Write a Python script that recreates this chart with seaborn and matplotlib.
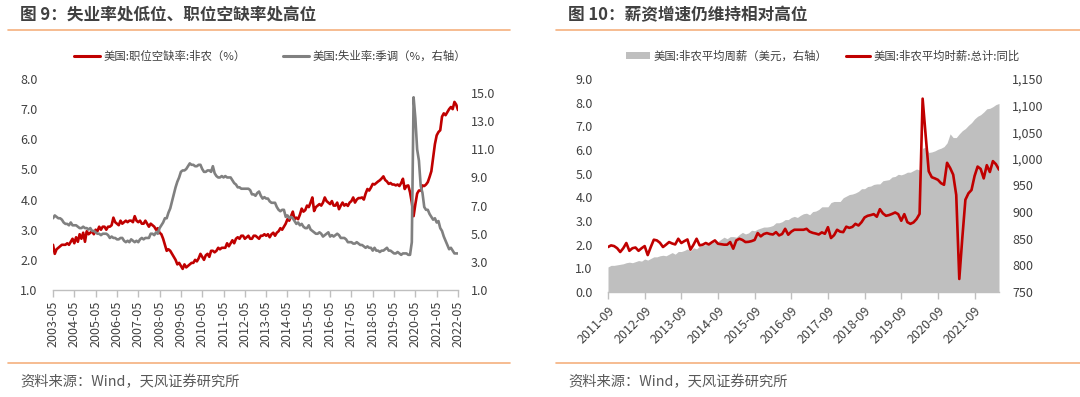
import numpy as np
import pandas as pd
import matplotlib
matplotlib.use("Agg")
import matplotlib.pyplot as plt
import seaborn as sns
from matplotlib.lines import Line2D
from matplotlib.patches import Patch
from matplotlib.ticker import FuncFormatter

# ---------------- data ----------------
# Left chart: monthly 2003-05 .. 2022-05
left_months = pd.period_range("2003-05", "2022-05", freq="M").strftime("%Y-%m").tolist()
left_tick_labels = left_months[::12]

job_openings_rate = [
    2.5, 2.2, 2.35, 2.4, 2.45, 2.5, 2.5, 2.5,
    2.55, 2.5, 2.6, 2.7, 2.55, 2.75, 2.6, 2.85, 2.7, 2.9, 2.6, 2.95,
    2.85, 2.9, 2.95, 2.85, 3.0, 2.95, 3.1, 3.0, 3.1, 3.1, 3.0, 3.1,
    3.1, 3.15, 3.4, 3.25, 3.2, 3.15, 3.3, 3.2, 3.25, 3.3, 3.25, 3.3,
    3.3, 3.25, 3.45, 3.3, 3.25, 3.3, 3.2, 3.2, 3.3, 3.2, 3.1, 3.2,
    3.15, 3.1, 3.0, 3.05, 2.9, 2.85, 2.7, 2.5, 2.3, 2.35, 2.3, 2.2,
    2.1, 2.0, 1.85, 1.9, 1.8, 1.7, 1.85, 1.75, 1.8, 1.85, 1.9, 1.9,
    2.0, 1.95, 2.05, 2.2, 2.1, 2.0, 2.15, 2.2, 2.1, 2.3, 2.3, 2.25,
    2.3, 2.4, 2.35, 2.4, 2.4, 2.4, 2.55, 2.45, 2.55, 2.65, 2.55, 2.7,
    2.75, 2.7, 2.8, 2.8, 2.7, 2.75, 2.8, 2.7, 2.7, 2.8, 2.8, 2.75,
    2.7, 2.8, 2.8, 2.85, 2.8, 2.85, 2.75, 2.85, 2.9, 2.8, 2.9, 2.95,
    3.05, 3.0, 3.1, 3.2, 3.35, 3.3, 3.45, 3.6, 3.35, 3.4, 3.35, 3.5,
    3.7, 3.6, 3.65, 3.8, 3.75, 3.9, 4.07, 3.62, 3.75, 3.8, 3.85, 3.8,
    3.9, 4.07, 3.95, 3.9, 3.85, 3.95, 3.8, 3.8, 3.9, 3.68, 3.8, 3.9,
    3.8, 3.85, 3.79, 3.9, 3.95, 4.07, 3.9, 4.0, 4.05, 4.05, 4.07, 4.0,
    4.2, 4.35, 4.3, 4.4, 4.52, 4.5, 4.55, 4.6, 4.64, 4.7, 4.77, 4.65,
    4.6, 4.52, 4.55, 4.5, 4.5, 4.47, 4.5, 4.45, 4.55, 4.69, 4.35, 4.45,
    4.47, 4.24, 3.9, 3.45, 3.85, 4.2, 4.3, 4.3, 4.47, 4.45, 4.5, 4.58,
    4.75, 4.94, 5.4, 5.84, 6.13, 6.24, 6.3, 6.75, 6.86, 6.8, 6.9, 7.0,
    7.07, 7.0, 7.24, 7.15, 6.97,
]

unemployment_rate = [
    6.1, 6.3, 6.2, 6.1, 6.1, 6.0, 5.8, 5.7,
    5.7, 5.6, 5.8, 5.6, 5.6, 5.6, 5.5, 5.4, 5.4, 5.5, 5.4, 5.4,
    5.3, 5.4, 5.2, 5.2, 5.1, 5.0, 5.0, 4.9, 5.0, 5.0, 5.0, 4.9,
    4.7, 4.8, 4.7, 4.7, 4.6, 4.6, 4.7, 4.7, 4.5, 4.4, 4.5, 4.4,
    4.6, 4.5, 4.4, 4.5, 4.4, 4.6, 4.7, 4.6, 4.7, 4.7, 4.7, 5.0,
    5.0, 4.9, 5.1, 5.0, 5.4, 5.6, 5.8, 6.1, 6.1, 6.5, 6.8, 7.3,
    7.8, 8.3, 8.7, 9.0, 9.4, 9.5, 9.5, 9.6, 9.8, 10.0, 9.9, 9.9,
    9.8, 9.8, 9.9, 9.9, 9.6, 9.4, 9.4, 9.5, 9.5, 9.4, 9.8, 9.3,
    9.1, 9.0, 9.0, 9.1, 9.0, 9.1, 9.0, 9.0, 9.0, 8.8, 8.6, 8.5,
    8.3, 8.3, 8.2, 8.2, 8.2, 8.2, 8.2, 8.1, 7.8, 7.8, 7.7, 7.9,
    8.0, 7.7, 7.5, 7.6, 7.5, 7.5, 7.3, 7.2, 7.2, 7.2, 6.9, 6.7,
    6.6, 6.7, 6.7, 6.2, 6.3, 6.1, 6.2, 6.1, 5.9, 5.7, 5.8, 5.6,
    5.7, 5.5, 5.4, 5.4, 5.6, 5.3, 5.2, 5.1, 5.0, 5.0, 5.1, 5.0,
    4.8, 4.9, 5.0, 5.1, 4.8, 4.9, 4.8, 4.9, 5.0, 4.9, 4.7, 4.7,
    4.7, 4.6, 4.4, 4.4, 4.4, 4.3, 4.3, 4.4, 4.3, 4.2, 4.2, 4.1,
    4.0, 4.1, 4.0, 4.0, 3.8, 4.0, 3.8, 3.8, 3.7, 3.8, 3.8, 3.9,
    4.0, 3.8, 3.8, 3.7, 3.6, 3.6, 3.7, 3.6, 3.5, 3.6, 3.6, 3.6,
    3.5, 3.5, 4.4, 14.7, 13.2, 11.0, 10.2, 8.4, 7.9, 6.9, 6.7, 6.7,
    6.4, 6.2, 6.0, 6.1, 5.8, 5.9, 5.4, 5.2, 4.8, 4.5, 4.2, 3.9,
    4.0, 3.8, 3.6, 3.6, 3.6,
]

# Right chart: monthly 2011-09 .. 2022-05
right_months = pd.period_range("2011-09", "2022-05", freq="M").strftime("%Y-%m").tolist()
right_tick_labels = right_months[::12][:11]

avg_weekly_earnings = [
    797, 800, 800, 801,
    802, 803, 805, 806, 805, 807, 809, 808, 812, 810, 813, 816,
    816, 818, 819, 818, 821, 824, 821, 826, 826, 828, 831, 827,
    833, 831, 836, 838, 839, 842, 842, 845, 845, 849, 853, 850,
    854, 854, 853, 858, 862, 859, 861, 866, 865, 868, 870, 872,
    872, 873, 875, 880, 880, 882, 886, 886, 890, 892, 890, 894,
    897, 898, 895, 901, 902, 905, 910, 910, 910, 918, 920, 920,
    920, 927, 930, 933, 934, 936, 939, 944, 944, 948, 949, 952,
    953, 953, 959, 960, 961, 966, 967, 971, 970, 972, 975, 975,
    978, 981, 979, 1020, 1022, 1012, 1013, 1015, 1018, 1020, 1023, 1030,
    1047, 1040, 1040, 1047, 1053, 1057, 1063, 1068, 1075, 1080, 1083, 1088,
    1094, 1095, 1098, 1102, 1104,
]

hourly_earnings_yoy = [
    1.90, 1.97, 1.94, 1.85,
    1.69, 1.85, 2.07, 1.74, 1.85, 1.88, 1.74, 1.85, 1.94, 1.56, 1.90, 2.21,
    2.18, 2.08, 1.90, 2.00, 2.11, 2.05, 2.01, 2.25, 2.07, 2.15, 2.22, 1.79,
    2.00, 2.25, 1.97, 2.00, 2.07, 2.01, 2.10, 2.18, 2.04, 2.02, 2.00, 2.00,
    2.11, 1.83, 2.18, 2.25, 2.20, 2.11, 2.12, 2.15, 2.20, 2.49, 2.35, 2.45,
    2.49, 2.45, 2.43, 2.53, 2.39, 2.45, 2.67, 2.42, 2.55, 2.63, 2.63, 2.63,
    2.63, 2.67, 2.55, 2.50, 2.47, 2.43, 2.52, 2.46, 2.74, 2.28, 2.40, 2.63,
    2.55, 2.53, 2.76, 2.71, 2.75, 2.88, 2.81, 2.95, 3.15, 3.22, 3.25, 3.29,
    3.18, 3.50, 3.32, 3.22, 3.25, 3.30, 3.36, 3.29, 3.01, 3.29, 2.95, 2.88,
    2.94, 3.08, 3.30, 8.17, 6.60, 5.10, 4.85, 4.80, 4.74, 4.60, 4.53, 5.46,
    5.24, 4.96, 4.10, 0.55, 2.30, 3.90, 4.17, 4.31, 4.90, 5.30, 5.20, 4.80,
    5.36, 5.07, 5.53, 5.40, 5.17,
]

# ---------------- styling ----------------
RED = "#C00000"
GREY_LINE = "#808080"
GREY_AREA = "#BFBFBF"
ORANGE = "#F5B07E"
TXT = "#404040"
AXIS = "#BFBFBF"

sns.set_theme(style="white")
plt.rcParams["font.family"] = ["Noto Sans CJK SC", "DejaVu Sans"]
plt.rcParams["axes.unicode_minus"] = False

W, H = 1080, 397
fig = plt.figure(figsize=(W / 100, H / 100), dpi=100)


def fx(px):
    return px / W


def fy(py):
    return 1 - py / H


def style_axes(ax, twin, ypad):
    for s in ax.spines.values():
        s.set_visible(False)
    ax.set_xlabel("")
    ax.set_ylabel("")
    ax.tick_params(axis="y", left=False, right=False, length=0, labelsize=9,
                   labelcolor=TXT, pad=ypad)
    if not twin:
        ax.spines["bottom"].set_visible(True)
        ax.spines["bottom"].set_color(AXIS)
        ax.spines["bottom"].set_linewidth(1.0)


# ---------------- left chart ----------------
axL = fig.add_axes([fx(53), fy(290), fx(458 - 53), (290 - 79) / H])
xl = np.arange(len(left_months))
dfL = pd.DataFrame({"idx": xl, "vac": job_openings_rate, "unemp": unemployment_rate})
sns.lineplot(data=dfL, x="idx", y="vac", ax=axL, color=RED, linewidth=1.9)
axL2 = axL.twinx()
sns.lineplot(data=dfL, x="idx", y="unemp", ax=axL2, color=GREY_LINE, linewidth=1.9)

axL.set_xlim(0, len(left_months) - 1)
axL.set_ylim(1, 8)
axL.set_yticks(np.arange(1, 8.01, 1))
axL.yaxis.set_major_formatter(FuncFormatter(lambda v, p: f"{v:.1f}"))
axL2.set_ylim(1, 16)
axL2.set_yticks(np.arange(1, 15.01, 2))
axL2.yaxis.set_major_formatter(FuncFormatter(lambda v, p: f"{v:.1f}"))
axL.set_xticks(xl[::12])
axL.set_xticklabels(left_tick_labels, rotation=90)
style_axes(axL, False, 11)
style_axes(axL2, True, 9)
axL.tick_params(axis="x", bottom=True, length=5, width=1.0, color=AXIS,
                labelsize=9, labelcolor=TXT, pad=3)

# ---------------- right chart ----------------
axR = fig.add_axes([fx(608), fy(292), fx(999 - 608), (292 - 79) / H])
xr = np.arange(len(right_months))
dfR = pd.DataFrame({"idx": xr, "awe": avg_weekly_earnings, "yoy": hourly_earnings_yoy})
axR2 = axR.twinx()
axR2.fill_between(dfR["idx"], 750, dfR["awe"], color=GREY_AREA, linewidth=0)
sns.lineplot(data=dfR, x="idx", y="yoy", ax=axR, color=RED, linewidth=1.9)
axR.set_zorder(axR2.get_zorder() + 1)
axR.patch.set_visible(False)

axR.set_xlim(0, len(right_months) - 1)
axR.set_ylim(0, 9)
axR.set_yticks(np.arange(0, 9.01, 1))
axR.yaxis.set_major_formatter(FuncFormatter(lambda v, p: f"{v:.1f}"))
axR2.set_ylim(750, 1150)
axR2.set_yticks(np.arange(750, 1150.1, 50))
axR2.yaxis.set_major_formatter(FuncFormatter(lambda v, p: f"{v:,.0f}"))
axR.set_xticks(xr[::12][:11])
axR.set_xticklabels(right_tick_labels, rotation=45, ha="right", rotation_mode="anchor")
style_axes(axR, False, 11)
style_axes(axR2, True, 9.5)
axR.tick_params(axis="x", bottom=True, length=5, width=1.0, color=AXIS,
                labelsize=9, labelcolor=TXT, pad=4)

# ---------------- decorations ----------------
title_kw = dict(fontsize=12, fontweight="bold", color=TXT, va="center", ha="left")
fig.text(fx(20), fy(15), "图 9：失业率处低位、职位空缺率处高位", **title_kw)
fig.text(fx(568), fy(15), "图 10：薪资增速仍维持相对高位", **title_kw)

src_kw = dict(fontsize=10.3, color="#595959", va="center", ha="left")
fig.text(fx(20), fy(382), "资料来源：Wind，天风证券研究所", **src_kw)
fig.text(fx(568), fy(382), "资料来源：Wind，天风证券研究所", **src_kw)

for (x0, x1) in [(8, 510), (556, 1080)]:
    for yy in (30, 363):
        fig.add_artist(Line2D([fx(x0), fx(x1)], [fy(yy), fy(yy)], color=ORANGE,
                              linewidth=1.2, transform=fig.transFigure))

legL = fig.legend(
    handles=[Line2D([], [], color=RED, linewidth=2.2),
             Line2D([], [], color=GREY_LINE, linewidth=2.2)],
    labels=["美国:职位空缺率:非农（%）", "美国:失业率:季调（%，右轴）"],
    loc="center", bbox_to_anchor=(fx(270), fy(56)), ncol=2, frameon=False,
    fontsize=8.2, handlelength=2.3, handletextpad=0.3, columnspacing=3.3,
    labelcolor=TXT,
)
legR = fig.legend(
    handles=[Patch(facecolor=GREY_AREA, edgecolor="none"),
             Line2D([], [], color=RED, linewidth=2.2)],
    labels=["美国:非农平均周薪（美元，右轴）", "美国:非农平均时薪:总计:同比"],
    loc="center", bbox_to_anchor=(fx(823), fy(56)), ncol=2, frameon=False,
    fontsize=8.2, handlelength=2.1, handleheight=0.6, handletextpad=0.3, columnspacing=1.7,
    labelcolor=TXT,
)

fig.savefig("out.png", dpi=100)
